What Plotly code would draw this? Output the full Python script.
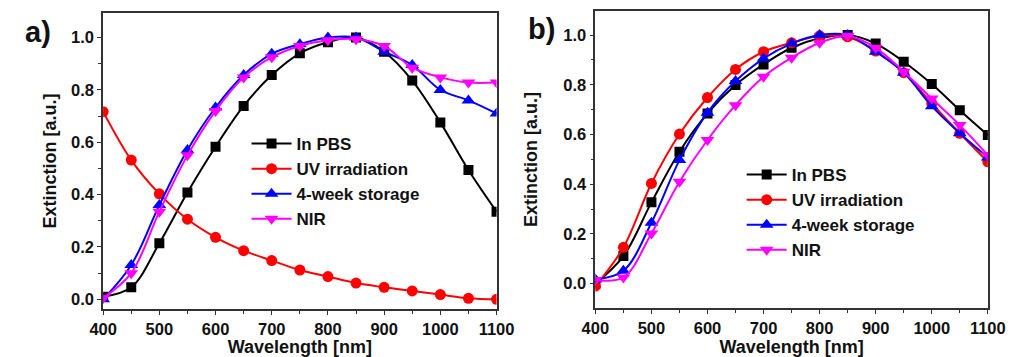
import plotly.graph_objects as go

wavelength = [400, 450, 500, 550, 600, 650, 700, 750, 800, 850, 900, 950, 1000, 1050, 1100]

# Panel a
a_pbs = [0.01, 0.046, 0.214, 0.408, 0.583, 0.739, 0.857, 0.94, 0.982, 1.0, 0.946, 0.836, 0.676, 0.494, 0.335]
a_uv = [0.717, 0.532, 0.403, 0.306, 0.237, 0.186, 0.148, 0.112, 0.087, 0.062, 0.046, 0.032, 0.018, 0.004, 0.0]
a_storage = [0.0, 0.131, 0.36, 0.571, 0.733, 0.857, 0.938, 0.975, 1.0, 1.0, 0.946, 0.895, 0.80, 0.76, 0.71]
a_nir = [0.005, 0.10, 0.335, 0.55, 0.72, 0.848, 0.925, 0.968, 0.99, 0.994, 0.968, 0.885, 0.848, 0.828, 0.828]

# Panel b
b_pbs = [0.0, 0.111, 0.327, 0.531, 0.685, 0.799, 0.882, 0.949, 0.987, 1.0, 0.966, 0.893, 0.803, 0.698, 0.598]
b_uv = [-0.01, 0.146, 0.403, 0.602, 0.749, 0.862, 0.933, 0.969, 0.997, 0.993, 0.936, 0.849, 0.725, 0.605, 0.49]
b_storage = [0.017, 0.052, 0.245, 0.497, 0.688, 0.815, 0.906, 0.966, 1.0, 1.0, 0.933, 0.849, 0.714, 0.605, 0.508]
b_nir = [0.015, 0.025, 0.202, 0.41, 0.578, 0.718, 0.832, 0.909, 0.969, 0.996, 0.949, 0.853, 0.745, 0.638, 0.517]

series_names = ["In PBS", "UV irradiation", "4-week storage", "NIR"]
colors = ["#000000", "#ff0000", "#0000ff", "#ff00ff"]
symbols = ["square", "circle", "triangle-up", "triangle-down"]
msizes = [10, 11, 12, 12]

W, H = 1031, 357
FONT = "Liberation Sans, Arial, sans-serif"

fig = go.Figure()

for panel, data, xa, ya, lg in [
    ("a", [a_pbs, a_uv, a_storage, a_nir], "x", "y", "legend"),
    ("b", [b_pbs, b_uv, b_storage, b_nir], "x2", "y2", "legend2"),
]:
    for name, vals, c, s, ms in zip(series_names, data, colors, symbols, msizes):
        fig.add_trace(go.Scatter(
            x=wavelength, y=vals, name=name, mode="lines+markers",
            line=dict(color=c, width=2, shape="spline", smoothing=1.0),
            marker=dict(symbol=s, size=ms, color=c, line=dict(color=c, width=0)),
            xaxis=xa, yaxis=ya, legend=lg,
        ))

def xaxis_cfg(domain, anchor):
    return dict(
        domain=domain, anchor=anchor, range=[400, 1100],
        tickvals=list(range(400, 1101, 100)),
        ticks="outside", ticklen=4, tickwidth=1.3, tickcolor="#333",
        minor=dict(dtick=50, tick0=400, ticks="outside", ticklen=3, tickwidth=1.2, tickcolor="#333"),
        showline=True, linecolor="#333", linewidth=1.6, mirror=True,
        showgrid=False, zeroline=False,
        tickfont=dict(family=FONT, size=16.5, color="#111", weight="bold"),
        title=dict(text="Wavelength [nm]", standoff=4,
                   font=dict(family=FONT, size=18, color="#111", weight="bold")),
    )

def yaxis_cfg(domain, anchor, rng, standoff):
    return dict(
        domain=domain, anchor=anchor, range=rng,
        tickvals=[0.0, 0.2, 0.4, 0.6, 0.8, 1.0], tickformat=".1f",
        ticks="outside", ticklen=4, tickwidth=1.3, tickcolor="#333",
        minor=dict(dtick=0.1, tick0=0, ticks="outside", ticklen=3, tickwidth=1.2, tickcolor="#333"),
        showline=True, linecolor="#333", linewidth=1.6, mirror=True,
        showgrid=False, zeroline=False,
        tickfont=dict(family=FONT, size=16.5, color="#111", weight="bold"),
        title=dict(text="Extinction [a.u.]", standoff=standoff,
                   font=dict(family=FONT, size=18, color="#111", weight="bold")),
    )

leg_font = dict(family=FONT, size=17, color="#111", weight="bold")

fig.update_layout(
    width=W, height=H,
    margin=dict(l=0, r=0, t=0, b=0),
    paper_bgcolor="white", plot_bgcolor="white",
    showlegend=True,
    xaxis=xaxis_cfg([92 / W, 498 / W], "y"),
    yaxis=yaxis_cfg([1 - 309 / H, 1 - 13 / H], "x", [-0.037, 1.094], 10),
    xaxis2=xaxis_cfg([600 / W, 1005 / W], "y2"),
    yaxis2=yaxis_cfg([1 - 308 / H, 1 - 11 / H], "x2", [-0.098, 1.097], 21),
    legend=dict(x=240 / W, y=1 - 126 / H, xanchor="left", yanchor="top",
                bgcolor="rgba(0,0,0,0)", font=leg_font, tracegroupgap=0,
                itemwidth=40),
    legend2=dict(x=751 / W, y=1 - 157 / H, xanchor="left", yanchor="top",
                 bgcolor="rgba(0,0,0,0)", font=leg_font, tracegroupgap=0,
                 itemwidth=40),
    annotations=[
        dict(text="a)", x=25 / W, y=1 - 32 / H, xref="paper", yref="paper",
             showarrow=False, xanchor="center", yanchor="middle",
             font=dict(family=FONT, size=29, color="#111", weight="bold")),
        dict(text="b)", x=544 / W, y=1 - 29 / H, xref="paper", yref="paper",
             showarrow=False, xanchor="center", yanchor="middle",
             font=dict(family=FONT, size=29, color="#111", weight="bold")),
    ],
)

fig.write_html("out.html")
